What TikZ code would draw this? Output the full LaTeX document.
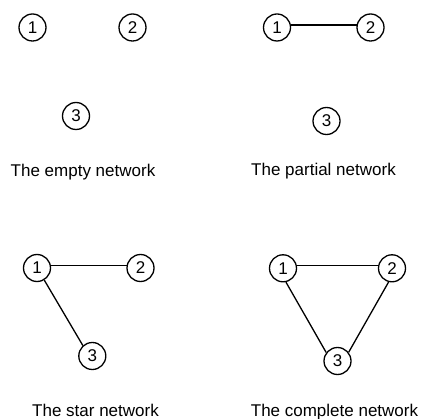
\documentclass[tikz,border=0pt]{standalone}
\usepackage{fontspec}
\setmainfont{Liberation Sans}
\begin{document}
\begin{tikzpicture}[x=1pt,y=-1pt,
  nd/.style={draw,circle,line width=1.3pt,minimum size=27pt,inner sep=0pt,font=\fontsize{17}{20}\selectfont},
  lbl/.style={anchor=base,inner sep=0pt,font=\fontsize{17}{20}\selectfont},
  edge/.style={line width=1.3pt}]
\useasboundingbox (0,0) rectangle (422,419);
% empty
\node[nd] (a1) at (32.5,27.5) {1};
\node[nd] (a2) at (132.5,27.5) {2};
\node[nd] (a3) at (76,116) {3};
\node[lbl] (la) at (83,176.5) {The empty network};
% partial
\node[nd] (b1) at (277,27.5) {1};
\node[nd] (b2) at (370.5,27.5) {2};
\node[nd] (b3) at (326.5,121) {3};
\node[lbl] (lb) at (323.5,176) {The partial network};
\draw[edge] (b1.10) -- (b2.170);
% star
\node[nd] (c1) at (37,268) {1};
\node[nd] (c2) at (140.5,268) {2};
\node[nd] (c3) at (92.3,356) {3};
\node[lbl] (lc) at (95.5,416.5) {The star network};
\draw[edge] (c1.10) -- (c2.170);
\draw[edge] (c1.-59) -- (c3.132);
% complete
\node[nd] (d1) at (283,268.3) {1};
\node[nd] (d2) at (392,268.3) {2};
\node[nd] (d3) at (337.5,361) {3};
\node[lbl] (ld) at (334.5,416.5) {The complete network};
\draw[edge] (d1.10) -- (d2.170);
\draw[edge] (d1.-78) -- (d3.143);
\draw[edge] (d2.-104) -- (d3.38);
\end{tikzpicture}
\end{document}
